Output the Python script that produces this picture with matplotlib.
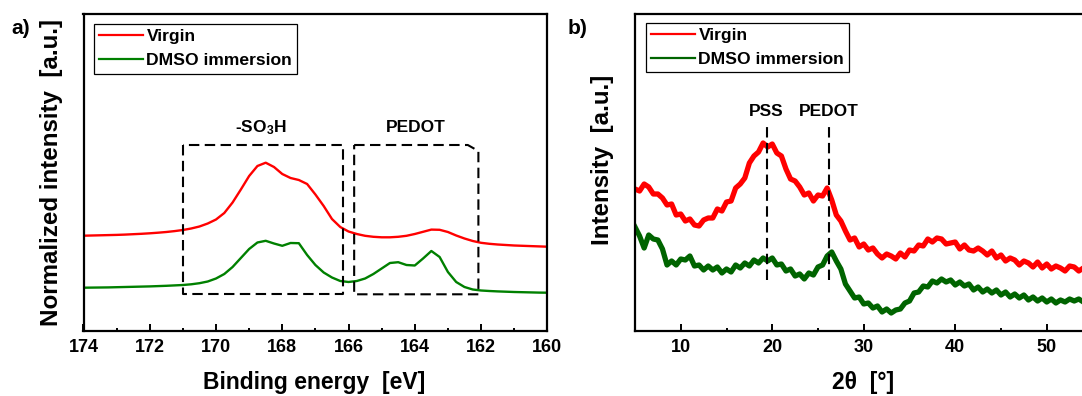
import matplotlib
matplotlib.use("Agg")
import matplotlib.pyplot as plt
from matplotlib.lines import Line2D
from matplotlib.ticker import MultipleLocator

plt.rcParams['font.family'] = ['Liberation Sans', 'DejaVu Sans']
plt.rcParams['font.weight'] = 'bold'
plt.rcParams['mathtext.fontset'] = 'custom'
plt.rcParams['mathtext.rm'] = 'Liberation Sans:bold'
plt.rcParams['mathtext.default'] = 'rm'

# ---------------- data: XPS S2p (panel a) ----------------
xps_energy = [174.00, 173.75, 173.50, 173.25, 173.00, 172.75, 172.50, 172.25, 172.00, 171.75,
              171.50, 171.25, 171.00, 170.75, 170.50, 170.25, 170.00, 169.75, 169.50, 169.25,
              169.00, 168.75, 168.50, 168.25, 168.00, 167.75, 167.50, 167.25, 167.00, 166.75,
              166.50, 166.25, 166.00, 165.75, 165.50, 165.25, 165.00, 164.75, 164.50, 164.25,
              164.00, 163.75, 163.50, 163.25, 163.00, 162.75, 162.50, 162.25, 162.00, 161.75,
              161.50, 161.25, 161.00, 160.75, 160.50, 160.25, 160.00]
xps_virgin = [95.3, 95.5, 95.7, 95.9, 96.1, 96.4, 96.8, 97.2, 97.7, 98.3,
              99.0, 99.9, 101.0, 102.5, 104.5, 107.5, 111.5, 118.0, 128.5, 141.5,
              155.0, 165.0, 168.3, 164.0, 157.0, 153.0, 151.0, 147.0, 136.5, 125.0,
              112.0, 104.0, 99.5, 97.0, 95.2, 94.2, 93.7, 93.7, 94.2, 95.2,
              97.0, 99.2, 101.4, 101.2, 99.0, 95.5, 92.5, 90.0, 88.2, 87.2,
              86.5, 86.0, 85.5, 85.2, 84.9, 84.6, 84.3]
xps_dmso = [43.3, 43.4, 43.5, 43.6, 43.8, 44.0, 44.2, 44.4, 44.6, 44.9,
            45.2, 45.6, 46.0, 46.7, 47.8, 49.5, 52.5, 57.0, 64.0, 73.0,
            82.0, 88.5, 90.2, 87.5, 85.2, 88.0, 87.8, 76.0, 66.0, 58.5,
            53.5, 50.0, 49.0, 50.0, 52.5, 57.0, 62.5, 68.0, 68.8, 66.0,
            65.5, 72.5, 80.0, 74.0, 59.0, 49.0, 44.0, 41.5, 40.5, 40.0,
            39.6, 39.3, 39.0, 38.8, 38.6, 38.4, 38.3]

# ---------------- data: XRD (panel b) ----------------
xrd_2theta = [5.0 + 0.5 * i for i in range(101)]
xrd_virgin = [142, 140, 147, 144, 137, 137, 133, 126, 127, 116,
              117, 110, 112, 106, 105, 111, 113, 113, 122, 120,
              129, 130, 143, 147, 153, 168, 175, 179, 188, 184,
              187, 178, 175, 162, 152, 150, 144, 136, 138, 130,
              136, 135, 143, 131, 116, 110, 100, 91, 93, 84,
              87, 81, 83, 77, 73, 77, 75, 72, 78, 74,
              81, 80, 86, 85, 92, 89, 93, 92, 87, 88,
              89, 82, 86, 81, 80, 83, 80, 76, 80, 73,
              76, 70, 73, 71, 66, 70, 68, 64, 69, 63,
              67, 62, 65, 63, 60, 65, 64, 60, 63, 61,
              62]
xrd_dmso = [104, 95, 83, 96, 92, 91, 82, 66, 70, 66,
            72, 71, 75, 65, 66, 61, 65, 61, 64, 58,
            62, 59, 66, 63, 68, 65, 71, 68, 73, 70,
            73, 66, 67, 60, 62, 55, 57, 52, 58, 56,
            64, 66, 75, 79, 70, 62, 47, 40, 33, 34,
            27, 28, 23, 25, 19, 22, 18, 21, 22, 28,
            30, 38, 39, 45, 44, 50, 48, 52, 49, 51,
            46, 49, 45, 47, 41, 44, 39, 42, 38, 41,
            36, 39, 34, 37, 33, 36, 31, 34, 30, 33,
            29, 32, 28, 31, 29, 32, 30, 32, 29, 32,
            30]

series_labels = ['Virgin', 'DMSO immersion']

# annotation geometry (data units)
so3h_box_x = [171.0, 166.16]
pedot_box_x = [165.83, 162.08]
box_y = [37.2, 186.0]
xrd_marker_pos = [19.4, 26.2]
xrd_marker_y = [51, 204]
xrd_marker_text = ['PSS', 'PEDOT']

RED = '#ff0000'
GREEN_A = '#008000'
GREEN_B = '#006400'

fig = plt.figure(figsize=(10.82, 3.96), dpi=100)
axa = fig.add_axes([83.5 / 1082, 65 / 396, 463.8 / 1082, 317 / 396])
axb = fig.add_axes([635 / 1082, 65 / 396, 457.5 / 1082, 317 / 396])

dash_kw = dict(color='black', lw=1.5, linestyle=(0, (5, 2.6)))

# ---- panel a ----
axa.plot(xps_energy, xps_virgin, color=RED, lw=1.7, solid_joinstyle='round')
axa.plot(xps_energy, xps_dmso, color=GREEN_A, lw=1.7, solid_joinstyle='round')
x0, x1 = so3h_box_x
y0, y1 = box_y
axa.plot([x0, x0, x1, x1, x0], [y1, y0, y0, y1, y1], **dash_kw)
p0, p1 = pedot_box_x
axa.plot([p0, p1 + 0.32, p1, p1, p0, p0], [y1, y1, y1 - 6, y0 - 0.5, y0 - 0.5, y1], **dash_kw)
axa.text(168.64, 198.7, '-SO$_3$H', ha='center', va='baseline', fontsize=12.5, fontweight='bold')
axa.text(163.98, 198.7, 'PEDOT', ha='center', va='baseline', fontsize=12.5, fontweight='bold')
axa.set_xlim(174, 160)
axa.set_ylim(0, 317)
axa.xaxis.set_major_locator(MultipleLocator(2))
axa.xaxis.set_minor_locator(MultipleLocator(1))
axa.set_xlabel('Binding energy  [eV]', fontsize=16.5, fontweight='bold', va='center')
axa.set_ylabel('Normalized intensity  [a.u.]', fontsize=17.4, fontweight='bold', va='center')
axa.xaxis.set_label_coords(0.497, -0.164)
axa.yaxis.set_label_coords(-0.07, 0.5)

# ---- panel b ----
axb.plot(xrd_2theta, xrd_virgin, color=RED, lw=3.8, solid_joinstyle='round')
axb.plot(xrd_2theta, xrd_dmso, color=GREEN_B, lw=3.8, solid_joinstyle='round')
for xp, txt in zip(xrd_marker_pos, xrd_marker_text):
    axb.plot([xp, xp], xrd_marker_y, **dash_kw)
    axb.text(xp - 0.1 if txt == 'PSS' else xp, 215, txt, ha='center', va='baseline',
             fontsize=12.5, fontweight='bold')
axb.set_xlim(5, 55)
axb.set_ylim(0, 317)
axb.xaxis.set_major_locator(MultipleLocator(10))
axb.xaxis.set_minor_locator(MultipleLocator(5))
axb.set_xlabel('2θ  [°]', fontsize=16.5, fontweight='bold', va='center')
axb.set_ylabel('Intensity  [a.u.]', fontsize=17.4, fontweight='bold', va='center')
axb.xaxis.set_label_coords(0.498, -0.164)
axb.yaxis.set_label_coords(-0.07, 0.54)

for ax, green, anchor in ((axa, GREEN_A, (0.0226, 0.9685)), (axb, GREEN_B, (0.024, 0.9726))):
    ax.set_yticks([])
    for s in ax.spines.values():
        s.set_linewidth(1.6)
    ax.tick_params(axis='x', which='major', direction='in', length=5, width=1.4,
                   labelsize=13, pad=6, top=False)
    ax.tick_params(axis='x', which='minor', direction='in', length=2.5, width=1.4, top=False)
    for lab in ax.get_xticklabels():
        lab.set_fontweight('bold')
    handles = [Line2D([], [], color=RED, lw=1.6), Line2D([], [], color=green, lw=1.6)]
    leg = ax.legend(handles, series_labels, loc='upper left', bbox_to_anchor=anchor,
                    borderaxespad=0, frameon=True, fancybox=False,
                    edgecolor='black', framealpha=1, handlelength=2.5, handletextpad=0.2,
                    labelspacing=0.5, borderpad=0.3,
                    prop={'weight': 'bold', 'size': 12.6})
    leg.get_frame().set_linewidth(0.9)

fig.text(11.7 / 1082, (396 - 33.5) / 396, 'a)', fontsize=15, fontweight='bold', ha='left', va='baseline')
fig.text(567.3 / 1082, (396 - 33.5) / 396, 'b)', fontsize=15, fontweight='bold', ha='left', va='baseline')

fig.savefig('out.png', dpi=100)
